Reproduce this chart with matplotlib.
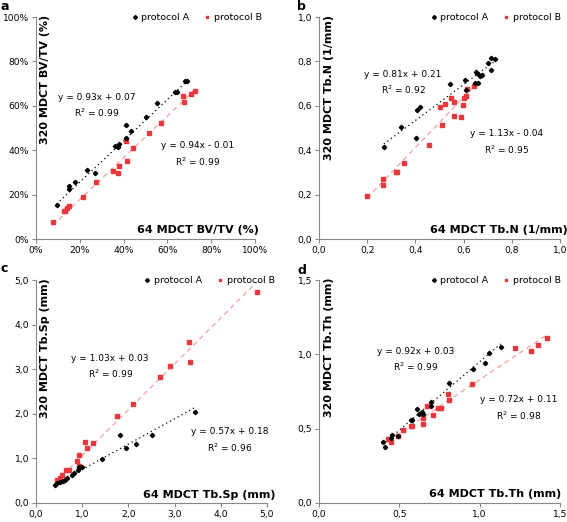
import numpy as np
import matplotlib
matplotlib.use("Agg")
import matplotlib.pyplot as plt
from matplotlib.ticker import FuncFormatter

# panel a: BV/TV (%)
a_xA = [9.4, 15.1, 15.2, 17.8, 23.4, 26.8, 36.1, 37.6, 38.1, 40.9, 41.1, 43.2, 50.1, 55.4, 63.5, 64.2, 68.2, 68.8]
a_yA = [15.4, 24.1, 22.6, 25.6, 31.1, 29.6, 41.9, 41.6, 42.7, 45.5, 51.3, 48.5, 54.9, 61.4, 66.0, 66.0, 71.0, 71.4]
a_xB = [7.6, 12.8, 13.4, 14.0, 15.2, 21.3, 27.4, 35.3, 37.6, 37.8, 41.1, 41.6, 44.1, 51.6, 56.9, 67.1, 67.7, 70.6, 72.8]
a_yB = [7.8, 12.6, 12.6, 13.9, 14.7, 18.9, 25.6, 30.8, 29.9, 33.1, 44.2, 35.2, 41.0, 47.8, 52.1, 64.4, 61.8, 65.4, 66.8]

# panel b: Tb.N (1/mm)
b_xA = [0.269, 0.341, 0.402, 0.407, 0.418, 0.543, 0.605, 0.609, 0.647, 0.658, 0.651, 0.660, 0.668, 0.675, 0.702, 0.712, 0.713, 0.731]
b_yA = [0.413, 0.503, 0.456, 0.581, 0.595, 0.697, 0.716, 0.673, 0.703, 0.703, 0.754, 0.745, 0.736, 0.739, 0.794, 0.760, 0.815, 0.811]
b_xB = [0.199, 0.266, 0.266, 0.319, 0.324, 0.352, 0.456, 0.504, 0.510, 0.521, 0.546, 0.560, 0.562, 0.589, 0.598, 0.602, 0.609, 0.614, 0.645]
b_yB = [0.195, 0.272, 0.243, 0.303, 0.303, 0.344, 0.425, 0.595, 0.514, 0.610, 0.635, 0.617, 0.553, 0.550, 0.604, 0.635, 0.646, 0.677, 0.691]

# panel c: Tb.Sp (mm)
c_xA = [0.41, 0.46, 0.52, 0.58, 0.63, 0.67, 0.77, 0.82, 0.90, 0.93, 0.99, 1.42, 1.82, 1.95, 2.17, 2.51, 3.45]
c_yA = [0.41, 0.44, 0.47, 0.50, 0.52, 0.55, 0.62, 0.68, 0.73, 0.80, 0.81, 0.98, 1.53, 1.24, 1.32, 1.53, 2.04]
c_xB = [0.45, 0.52, 0.56, 0.66, 0.72, 0.88, 0.93, 0.93, 1.06, 1.11, 1.24, 1.75, 2.10, 2.69, 2.90, 3.32, 3.34, 4.78]
c_yB = [0.52, 0.56, 0.62, 0.73, 0.75, 0.94, 1.07, 0.83, 1.37, 1.24, 1.35, 1.95, 2.22, 2.83, 3.07, 3.62, 3.17, 4.72]

# panel d: Tb.Th (mm)
d_xA = [0.40, 0.41, 0.45, 0.455, 0.49, 0.57, 0.58, 0.61, 0.62, 0.64, 0.645, 0.70, 0.70, 0.81, 0.96, 1.03, 1.06, 1.13]
d_yA = [0.41, 0.38, 0.44, 0.455, 0.45, 0.56, 0.555, 0.63, 0.60, 0.61, 0.60, 0.65, 0.68, 0.81, 0.90, 0.94, 1.01, 1.05]
d_xB = [0.43, 0.45, 0.49, 0.52, 0.57, 0.58, 0.65, 0.65, 0.67, 0.71, 0.74, 0.76, 0.80, 0.81, 0.95, 1.22, 1.32, 1.36, 1.42]
d_yB = [0.43, 0.41, 0.45, 0.49, 0.52, 0.52, 0.57, 0.53, 0.65, 0.59, 0.64, 0.64, 0.73, 0.69, 0.80, 1.04, 1.02, 1.06, 1.11]

# regression lines (slope, intercept) as printed
fitA = [(0.93, 7.0), (0.81, 0.21), (0.57, 0.18), (0.92, 0.03)]
fitB = [(0.94, -1.0), (1.13, -0.04), (1.03, 0.03), (0.72, 0.11)]
eqA = ["y = 0.93x + 0.07\nR$^2$ = 0.99", "y = 0.81x + 0.21\nR$^2$ = 0.92",
       "y = 0.57x + 0.18\nR$^2$ = 0.96", "y = 0.92x + 0.03\nR$^2$ = 0.99"]
eqB = ["y = 0.94x - 0.01\nR$^2$ = 0.99", "y = 1.13x - 0.04\nR$^2$ = 0.95",
       "y = 1.03x + 0.03\nR$^2$ = 0.99", "y = 0.72x + 0.11\nR$^2$ = 0.98"]
xlabels = ["64 MDCT BV/TV (%)", "64 MDCT Tb.N (1/mm)", "64 MDCT Tb.Sp (mm)", "64 MDCT Tb.Th (mm)"]
ylabels = ["320 MDCT BV/TV (%)", "320 MDCT Tb.N (1/mm)", "320 MDCT Tb.Sp (mm)", "320 MDCT Tb.Th (mm)"]
letters = ["a", "b", "c", "d"]
letter_pos = [(0.001, 0.9808), (0.524, 0.9808), (0.001, 0.478), (0.524, 0.476)]

RED = "#e8383c"
PINK = "#f2a0a0"

panels = [
    dict(xA=a_xA, yA=a_yA, xB=a_xB, yB=a_yB, lim=100, ticks=np.arange(0, 101, 20),
         fmt=lambda v, p: f"{v:.0f}%", rect=[0.0635, 0.5421, 0.386, 0.4253],
         posA=(0.277, 0.60), posB=(0.737, 0.38), xl=(1.02, 0.042), lg=(1.05, 1.035)),
    dict(xA=b_xA, yA=b_yA, xB=b_xB, yB=b_yB, lim=1.0, ticks=np.arange(0, 1.01, 0.2),
         fmt=lambda v, p: f"{v:.1f}".replace(".", ","), rect=[0.5626, 0.5421, 0.4251, 0.4253],
         posA=(0.349, 0.703), posB=(0.78, 0.435), xl=(1.03, 0.042), lg=(1.02, 1.035)),
    dict(xA=c_xA, yA=c_yA, xB=c_xB, yB=c_yB, lim=5.0, ticks=np.arange(0, 5.01, 1.0),
         fmt=lambda v, p: f"{v:.1f}".replace(".", ","), rect=[0.0635, 0.0364, 0.4074, 0.4272],
         posA=(0.838, 0.279), posB=(0.321, 0.61), xl=(1.036, 0.037), lg=(1.05, 1.035)),
    dict(xA=d_xA, yA=d_yA, xB=d_xB, yB=d_yB, lim=1.5, ticks=np.arange(0, 1.51, 0.5),
         fmt=lambda v, p: f"{v:.1f}".replace(".", ","), rect=[0.5626, 0.0364, 0.4251, 0.4272],
         posA=(0.402, 0.641), posB=(0.827, 0.425), xl=(1.007, 0.04), lg=(1.02, 1.035)),
]

fig = plt.figure(figsize=(5.67, 5.22), dpi=100)

for i, p in enumerate(panels):
    ax = fig.add_axes(p["rect"])
    # trend lines
    for xs, (m, b), ls, col in [(p["xA"], fitA[i], (0, (1, 2.5)), "black"),
                                (p["xB"], fitB[i], (0, (4, 3)), PINK)]:
        xx = np.array([min(xs), max(xs)])
        ax.plot(xx, m * xx + b, ls=ls, color=col, lw=0.9, zorder=1)
    ax.plot(p["xA"], p["yA"], "D", color="black", ms=2.2, ls="none", label="protocol A", zorder=3)
    ax.plot(p["xB"], p["yB"], "s", color=RED, ms=2.2, ls="none", label="protocol B", zorder=2)

    ax.set_xlim(0, p["lim"])
    ax.set_ylim(0, p["lim"])
    ax.set_xticks(p["ticks"])
    ax.set_yticks(p["ticks"])
    ax.xaxis.set_major_formatter(FuncFormatter(p["fmt"]))
    ax.yaxis.set_major_formatter(FuncFormatter(p["fmt"]))
    for s in ["top", "right"]:
        ax.spines[s].set_visible(False)
    for s in ["left", "bottom"]:
        ax.spines[s].set_color("#888888")
        ax.spines[s].set_linewidth(0.8)
    ax.tick_params(length=3, width=0.8, color="#888888", labelsize=6.6, pad=2)

    ax.text(p["posA"][0], p["posA"][1], eqA[i], transform=ax.transAxes,
            ha="center", va="center", fontsize=6.5, linespacing=1.5)
    ax.text(p["posB"][0], p["posB"][1], eqB[i], transform=ax.transAxes,
            ha="center", va="center", fontsize=6.5, linespacing=1.5)

    ax.text(p["xl"][0], p["xl"][1], xlabels[i], transform=ax.transAxes,
            ha="right", va="center", fontsize=8, fontweight="bold")
    ax.text(0.04, 1.01, ylabels[i], transform=ax.transAxes, rotation=90,
            ha="center", va="top", fontsize=8, fontweight="bold")

    ax.legend(loc="upper right", bbox_to_anchor=p["lg"], ncol=2, frameon=False,
              fontsize=6.8, handlelength=0.6, handletextpad=0.4, columnspacing=1.6,
              markerscale=0.9, borderaxespad=0)

    fig.text(letter_pos[i][0], letter_pos[i][1], letters[i],
             fontsize=9, fontweight="bold", ha="left", va="baseline")

fig.savefig("out.png", dpi=100)
